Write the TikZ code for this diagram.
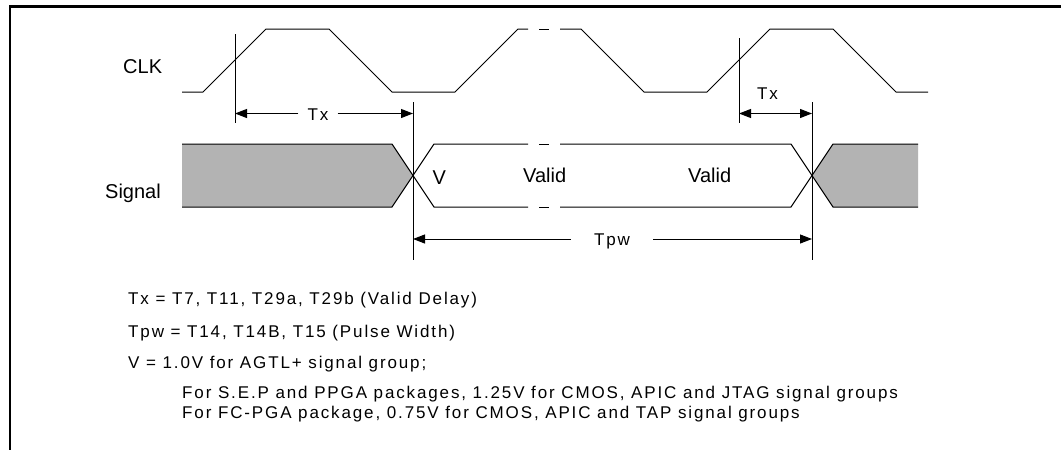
\documentclass[tikz,border=0pt]{standalone}
\usepackage{fontspec}
\setmainfont{Liberation Sans}
\newfontfamily\spacedfont[LetterSpace=11]{Liberation Sans}
\usetikzlibrary{arrows.meta}
\definecolor{sig}{RGB}{179,179,179}
\begin{document}
\begin{tikzpicture}[x=1pt,y=-1pt,
  wave/.style={line width=1pt, line join=miter},
  lbl/.style={inner sep=0pt, anchor=base west, font=\fontsize{20}{24}\selectfont},
  note/.style={inner sep=0pt, anchor=base west, font=\spacedfont\fontsize{17}{20}\selectfont},
  dimtip/.style={line width=1pt, -{Triangle[length=12pt,width=9pt]}},
  dimboth/.style={line width=1pt, {Triangle[length=12pt,width=9pt]}-{Triangle[length=12pt,width=9pt]}},
  marker/.style={line width=1pt}]
\useasboundingbox (0,0) rectangle (1061,450);
% frame
\draw[line width=2.4pt] (10,450) -- (10,6.5) -- (1061,6.5);

% CLK waveform
\draw[wave] (182,92) -- (203,92) -- (266,29) -- (329,29) -- (392,92) -- (455,92) -- (518,29) -- (528,29);
\draw[wave] (539,29) -- (549,29);
\draw[wave] (560,29) -- (581,29) -- (644,92) -- (707,92) -- (770,29) -- (833,29) -- (896,92) -- (928,92);

% Signal waveform
\fill[sig] (182,144) -- (392,144) -- (413,175.5) -- (392,207) -- (182,207) -- cycle;
\fill[sig] (812,175.5) -- (833,144) -- (918,144) -- (918,207) -- (833,207) -- cycle;
\draw[wave] (182,144) -- (392,144) -- (434,207) -- (528,207);
\draw[wave] (182,207) -- (392,207) -- (434,144) -- (528,144);
\draw[wave] (539,144) -- (549,144);
\draw[wave] (539,207) -- (549,207);
\draw[wave] (560,144) -- (791,144) -- (833,207) -- (918,207);
\draw[wave] (560,207) -- (791,207) -- (833,144) -- (918,144);

% markers
\coordinate (m1t) at (235,34);  \coordinate (m1b) at (235,123);
\coordinate (m2t) at (413,102); \coordinate (m2b) at (413,260);
\coordinate (m3t) at (812,102); \coordinate (m3b) at (812,260);
\coordinate (m4t) at (739,38);  \coordinate (m4b) at (739,123);
\draw[marker] (m1t) -- (m1b);
\draw[marker] (m2t) -- (m2b);
\draw[marker] (m3t) -- (m3b);
\draw[marker] (m4t) -- (m4b);

% dimension arrows
\coordinate (a1) at (235,113.5);
\coordinate (a2) at (413,113.5);
\coordinate (a3) at (739,113.5);
\coordinate (a4) at (812,113.5);
\coordinate (b1) at (413,239);
\coordinate (b2) at (812,239);

\node[note, anchor=base, inner xsep=9pt] (txa) at (318,120) {Tx};
\draw[dimtip] (txa.west |- a1) -- (a1);
\draw[dimtip] (txa.east |- a2) -- (a2);

\node[note] (txb) at (757,99) {Tx};
\draw[dimboth] (a3) -- (a4);

\node[note, anchor=base, inner xsep=23pt] (tpw) at (612,245) {Tpw};
\draw[dimtip] (tpw.west |- b1) -- (b1);
\draw[dimtip] (tpw.east |- b2) -- (b2);

% labels
\node[lbl] (clk) at (123,73) {CLK};
\node[lbl] (signal) at (105,198) {Signal};
\node[lbl] (vlab) at (432.5,184) {V};
\node[lbl] (valid1) at (523,182) {Valid};
\node[lbl] (valid2) at (688,182) {Valid};

% notes
\node[note] (n1) at (128,304) {Tx = T7, T11, T29a, T29b (Valid Delay)};
\node[note] (n2) at (128,337) {Tpw = T14, T14B, T15 (Pulse Width)};
\node[note] (n3) at (128,368) {V = 1.0V for AGTL+ signal group;};
\node[note] (n4) at (182,398) {For S.E.P and PPGA packages, 1.25V for CMOS, APIC and JTAG signal groups};
\node[note] (n5) at (182,418) {For FC-PGA package, 0.75V for CMOS, APIC and TAP signal groups};
\end{tikzpicture}
\end{document}
